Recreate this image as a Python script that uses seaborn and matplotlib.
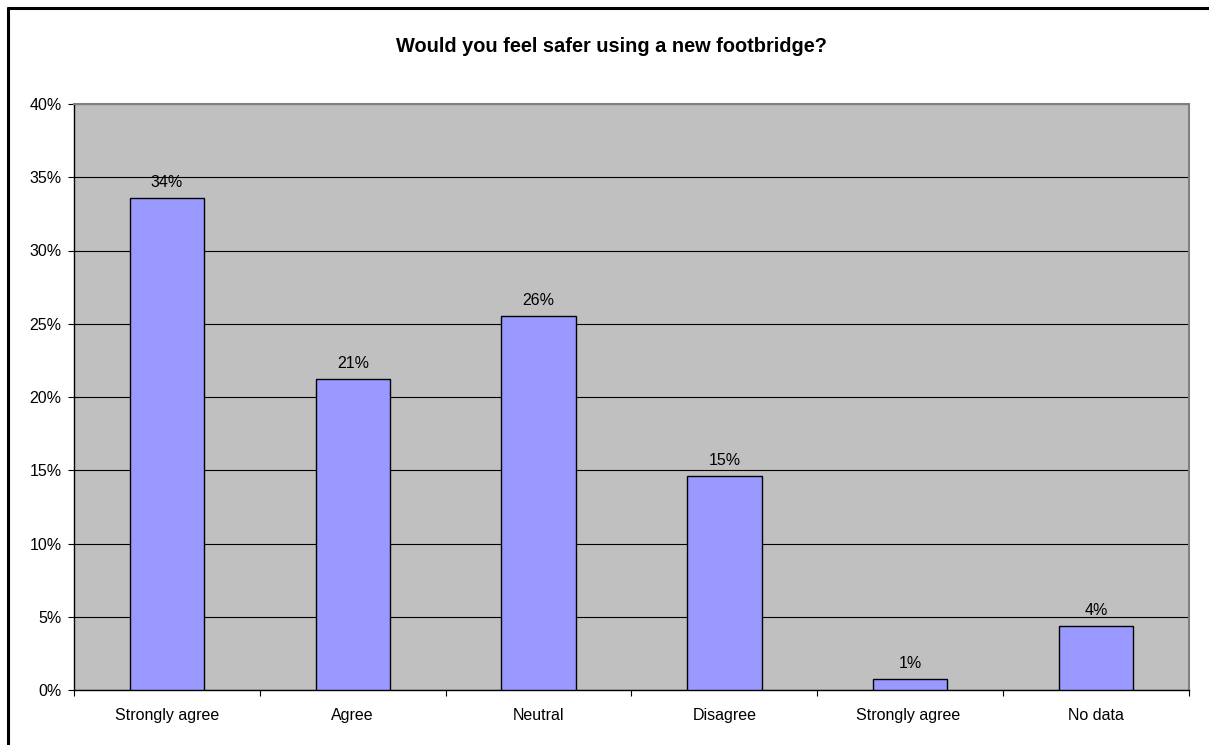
import matplotlib
matplotlib.use("Agg")
import matplotlib.pyplot as plt
import seaborn as sns
import pandas as pd
from matplotlib.lines import Line2D
from matplotlib.ticker import FixedLocator

categories = ["Strongly agree", "Agree", "Neutral", "Disagree", "Strongly agree ", "No data"]
values = [33.6, 21.2, 25.55, 14.6, 0.73, 4.37]
labels = ["34%", "21%", "26%", "15%", "1%", "4%"]
ytick_vals = [0, 5, 10, 15, 20, 25, 30, 35, 40]
title = "Would you feel safer using a new footbridge?"

sns.set_theme(style="white")
plt.rcParams["font.family"] = ["Liberation Sans", "DejaVu Sans"]
plt.rcParams["text.color"] = "black"

df = pd.DataFrame({"cat": categories, "val": values})

fig = plt.figure(figsize=(12.09, 7.45), dpi=100)
ax = fig.add_axes([74/1209, 1-690/745, (1189-74)/1209, (690-104)/745])
ax.set_facecolor("#C0C0C0")

sns.barplot(data=df, x="cat", y="val", color="#9999FF", width=0.4,
            edgecolor="black", linewidth=1.0, saturation=1, ax=ax, zorder=3)

for i, (v, lab) in enumerate(zip(values, labels)):
    ax.text(i, v + 0.55, lab, ha="center", va="bottom", fontsize=11.5, color="black", zorder=4)

ax.set_ylim(0, 40)
ax.set_xlim(-0.5, len(categories) - 0.5)
ax.set_yticks(ytick_vals)
ax.set_yticklabels([f"{t}%" for t in ytick_vals])
ax.yaxis.grid(True, color="black", linewidth=0.8, zorder=0)
ax.set_axisbelow(True)
ax.set_xlabel("")
ax.set_ylabel("")

ax.xaxis.set_minor_locator(FixedLocator([i - 0.5 for i in range(len(categories) + 1)]))
ax.tick_params(axis="x", which="major", length=0, pad=13, labelsize=11.5, colors="black")
ax.tick_params(axis="x", which="minor", length=4, width=0.8, color="black", direction="out", bottom=True)
ax.tick_params(axis="y", which="major", length=4, width=0.8, color="black", direction="out",
               left=True, pad=5, labelsize=11.5, labelcolor="black")

for s in ["left", "bottom"]:
    ax.spines[s].set_color("black")
    ax.spines[s].set_linewidth(1.0)
for s in ["top", "right"]:
    ax.spines[s].set_color("#808080")
    ax.spines[s].set_linewidth(1.5)
    ax.spines[s].set_visible(True)

fig.text(611/1209, 1-47/745, title, ha="center", va="center", fontsize=14.4, fontweight="bold", color="black")

# outer chart border (left and top visible)
fig.add_artist(Line2D([7.5/1209, 7.5/1209], [0, 1-7.5/745], transform=fig.transFigure, color="black", linewidth=2.2))
fig.add_artist(Line2D([7.5/1209, 1], [1-7.5/745, 1-7.5/745], transform=fig.transFigure, color="black", linewidth=2.2))

fig.savefig("out.png", dpi=100, facecolor="white")
